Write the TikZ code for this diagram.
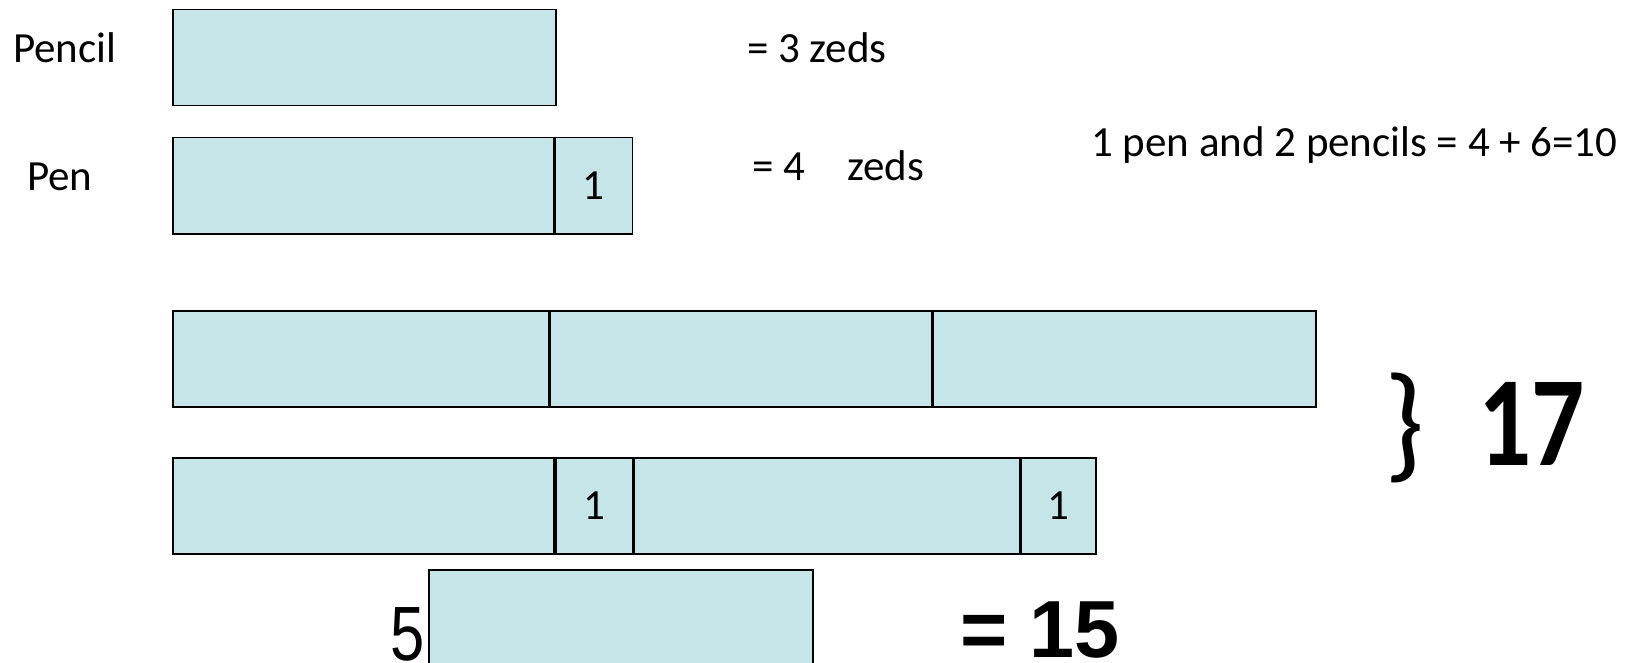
\documentclass[tikz,border=0pt]{standalone}
\usepackage{fontspec}
\setmainfont{Carlito}
\newfontfamily\figfont{Liberation Sans}
\definecolor{barfill}{RGB}{197,229,232}
\begin{document}
\begin{tikzpicture}[x=1pt,y=-1pt,
  txt/.style={inner sep=0pt, font=\fontsize{43}{50}\selectfont},
  bar/.style={draw=black, fill=barfill, line width=1.5pt, inner sep=0pt,
    minimum height=96pt, anchor=north west, txt},
  lbl/.style={txt, anchor=base west},
  big/.style={inner sep=0pt, anchor=base west, font=\fontsize{128}{140}\selectfont},
]
\useasboundingbox (0,0) rectangle (1637,663);

% one pencil
\node[lbl] (pencilname) at (13,62.5) {Pencil};
\node[bar, minimum width=383pt] (pencil) at (172,9) {};
\node[lbl] (pencileq) at (747,63) {= 3 zeds};

% one pen = a pencil and one more zed
\node[lbl] (penname) at (27,190) {Pen};
\node[bar, minimum width=381pt] (penbody) at (172,137) {};
\node[bar, minimum width=77pt] (penunit) at (penbody.north east) {1};
\node[lbl] (peneq) at (752,181) {= 4\hspace{0.75em} zeds};

\node[lbl] (sum) at (1091,157) {1 pen and 2 pencils = 4 + 6=10};

% three pencils
\node[bar, minimum width=376pt] (ra) at (172,310) {};
\node[bar, minimum width=381pt] (rb) at (ra.north east) {};
\node[bar, minimum width=383pt] (rc) at (rb.north east) {};

% two pens
\node[bar, line width=1.8pt, minimum width=381pt] (sa) at (172,457) {};
\node[bar, line width=1.8pt, minimum width=77pt] (sb) at (sa.north east) {1};
\node[bar, line width=1.8pt, minimum width=385pt] (sc) at (sb.north east) {};
\node[bar, line width=1.8pt, minimum width=75pt] (sd) at (sc.north east) {1};

% total of both rows
\node[big] (brace) at (1384,465) {\}};
\node[big, xscale=0.82, font=\bfseries\fontsize{128}{140}\selectfont] (total) at (1478,465) {17};

% five pencils
\node[inner sep=0pt, anchor=base east, xscale=0.8, font=\figfont\fontsize{77}{80}\selectfont] (five) at (425,660) {5};
\node[bar, minimum width=384pt] (fivebox) at (428,569) {};
\node[inner sep=0pt, anchor=base west, font=\figfont\bfseries\fontsize{81}{90}\selectfont] (fiveeq) at (960,657) {= 15};
\end{tikzpicture}
\end{document}
